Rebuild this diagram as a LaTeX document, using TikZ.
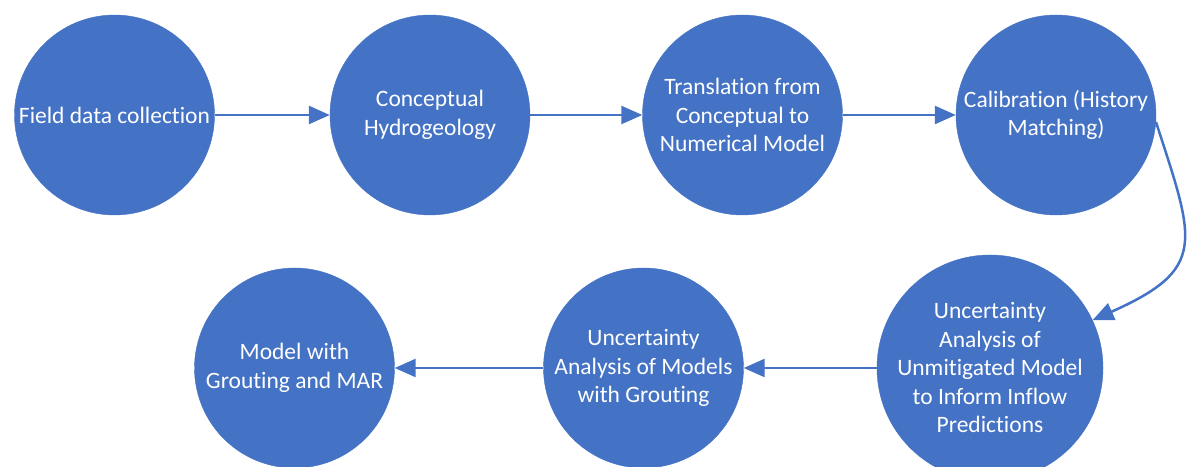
\documentclass[tikz,border=0pt]{standalone}
\usepackage{fontspec}
\setmainfont{Carlito}[Ligatures={NoCommon}]
\usepackage{tikz}
\usetikzlibrary{arrows.meta}
\definecolor{stblue}{HTML}{4472C4}
\tikzset{
  stage/.style={circle,fill=stblue,draw=stblue,minimum size=200bp,inner sep=0pt,
                align=center,text=white,font=\fontsize{23.5bp}{28.5bp}\selectfont},
  flow/.style={-{Triangle[length=21bp,width=18bp]},line width=2.5bp,draw=stblue},
}

\begin{document}
\begin{tikzpicture}[x=1bp,y=1bp]
  \useasboundingbox (0,0) rectangle (1187,467);
  % top row
  \node[stage] (field) at (114.5,352) {Field data collection};
  \node[stage] (concept) at (430,352) {Conceptual\\Hydrogeology};
  \node[stage] (transl) at (742.5,352) {Translation from\\Conceptual to\\Numerical Model};
  \node[stage] (calib) at (1056,352) {Calibration (History\\Matching)};
  % bottom row
  \node[stage] (unmit) at (990,99) {Uncertainty\\Analysis of\\Unmitigated Model\\to Inform Inflow\\Predictions};
  \node[stage] (grout) at (643.5,99) {Uncertainty\\Analysis of Models\\with Grouting};
  \node[stage] (mar) at (294.5,99) {Model with\\Grouting and MAR};

  \draw[flow] (field) -- (concept);
  \draw[flow] (concept) -- (transl);
  \draw[flow] (transl) -- (calib);
  \draw[flow] (calib.-4) to[out=-72,in=24,looseness=1.55] (unmit.25);
  \draw[flow] (unmit) -- (grout);
  \draw[flow] (grout) -- (mar);
\end{tikzpicture}
\end{document}
